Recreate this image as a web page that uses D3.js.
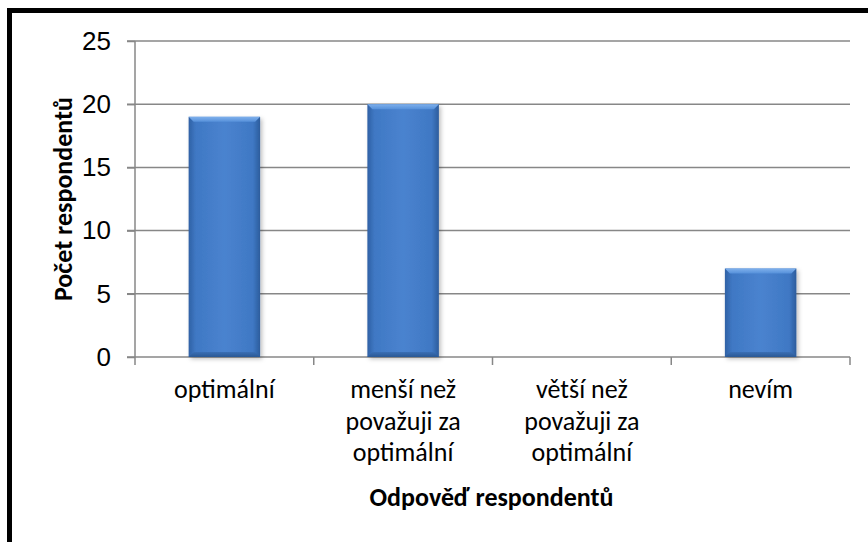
<!DOCTYPE html>
<html>
<head>
<meta charset="utf-8">
<script src="https://cdn.jsdelivr.net/npm/d3@7"></script>
<style>
  body { margin: 0; background: #fff; }
  svg { display: block; font-family: Carlito, "Open Sans", "Noto Sans", sans-serif; }
</style>
</head>
<body>
<div id="chart"></div>
<script>
// categories, each split into its printed lines
var categories = ["optimální", "menší než považuji za optimální", "větší než považuji za optimální", "nevím"],
    categoryLines = [["optimální"], ["menší než", "považuji za", "optimální"], ["větší než", "považuji za", "optimální"], ["nevím"]],
    counts = [19, 20, 0, 7],
    yTicks = [0, 5, 10, 15, 20, 25];

var xTitle = "Odpověď respondentů",
    yTitle = "Počet respondentů";

var width = 868, height = 542,
    margin = { top: 41, right: 18, bottom: 185, left: 135 },
    innerW = width - margin.left - margin.right,
    innerH = height - margin.top - margin.bottom;

var svg = d3.select("#chart").append("svg")
    .attr("width", width).attr("height", height);

// gradients for the bevelled bars
var defs = svg.append("defs");
var grad = defs.append("linearGradient").attr("id", "barGrad")
    .attr("x1", 0).attr("x2", 1).attr("y1", 0).attr("y2", 0);
grad.append("stop").attr("offset", "0%").attr("stop-color", "#2f61a5");
grad.append("stop").attr("offset", "10%").attr("stop-color", "#3f78c4");
grad.append("stop").attr("offset", "50%").attr("stop-color", "#4a83cf");
grad.append("stop").attr("offset", "90%").attr("stop-color", "#3f78c4");
grad.append("stop").attr("offset", "100%").attr("stop-color", "#2c5c9c");
var topGrad = defs.append("linearGradient").attr("id", "topGrad")
    .attr("x1", 0).attr("x2", 0).attr("y1", 0).attr("y2", 1);
topGrad.append("stop").attr("offset", "0%").attr("stop-color", "#7fb0ec");
topGrad.append("stop").attr("offset", "100%").attr("stop-color", "#5590da");
var botGrad = defs.append("linearGradient").attr("id", "botGrad")
    .attr("x1", 0).attr("x2", 0).attr("y1", 0).attr("y2", 1);
botGrad.append("stop").attr("offset", "0%").attr("stop-color", "#3a6fb5");
botGrad.append("stop").attr("offset", "100%").attr("stop-color", "#2a5894");
defs.append("filter").attr("id", "shadow")
    .attr("x", "-20%").attr("y", "-20%").attr("width", "140%").attr("height", "140%")
  .append("feDropShadow").attr("dx", 2).attr("dy", 2).attr("stdDeviation", 2)
    .attr("flood-color", "#000").attr("flood-opacity", 0.25);

// outer frame (cut off at the right and bottom in the picture)
svg.append("rect")
    .attr("x", 9.5).attr("y", 10.5).attr("width", 950).attr("height", 650)
    .attr("fill", "none").attr("stroke", "#000").attr("stroke-width", 5);

var g = svg.append("g").attr("transform", "translate(" + margin.left + "," + margin.top + ")");

var x = d3.scaleBand().domain(categories).range([0, innerW]).paddingInner(0.6).paddingOuter(0.3);
var xOuter = d3.scaleBand().domain(categories).range([0, innerW]);
var y = d3.scaleLinear().domain([0, 25]).range([innerH, 0]);

// gridlines
g.append("g").selectAll("line").data(yTicks.slice(1)).enter().append("line")
    .attr("x1", -8).attr("x2", innerW)
    .attr("y1", function (d) { return y(d); }).attr("y2", function (d) { return y(d); })
    .attr("stroke", "#878787").attr("stroke-width", 1.5);

// y axis
var yAxis = g.append("g").call(d3.axisLeft(y).tickValues(yTicks).tickSize(8).tickPadding(16));
yAxis.select(".domain").attr("stroke", "#878787").attr("stroke-width", 1.5).attr("d", "M0," + innerH + "V0");
yAxis.selectAll(".tick line").attr("stroke", "#878787").attr("stroke-width", 1.5);
yAxis.selectAll(".tick text").attr("fill", "#000").style("font-size", "26px");

// x axis baseline and category dividers
g.append("line").attr("x1", -8).attr("x2", innerW).attr("y1", innerH).attr("y2", innerH)
    .attr("stroke", "#878787").attr("stroke-width", 1.5);
g.append("g").selectAll("line").data(categories).enter().append("line")
    .attr("x1", function (d) { return xOuter(d) + xOuter.bandwidth(); })
    .attr("x2", function (d) { return xOuter(d) + xOuter.bandwidth(); })
    .attr("y1", innerH).attr("y2", innerH + 8)
    .attr("stroke", "#878787").attr("stroke-width", 1.5);
g.append("line").attr("x1", 0).attr("x2", 0).attr("y1", innerH).attr("y2", innerH + 8)
    .attr("stroke", "#878787").attr("stroke-width", 1.5);

// bars
var bars = g.append("g").selectAll("g").data(categories.map(function (c, i) { return { c: c, v: counts[i] }; })
    .filter(function (d) { return d.v > 0; }))
  .enter().append("g");
var bev = 5;
bars.append("rect")
    .attr("x", function (d) { return x(d.c); }).attr("y", function (d) { return y(d.v); })
    .attr("width", x.bandwidth()).attr("height", function (d) { return innerH - y(d.v); })
    .attr("fill", "url(#barGrad)").attr("filter", "url(#shadow)");
bars.append("path")
    .attr("d", function (d) {
        var x0 = x(d.c), x1 = x0 + x.bandwidth(), y0 = y(d.v);
        return "M" + x0 + "," + y0 + "H" + x1 + "L" + (x1 - bev) + "," + (y0 + bev) + "H" + (x0 + bev) + "Z";
    })
    .attr("fill", "url(#topGrad)");
bars.append("path")
    .attr("d", function (d) {
        var x0 = x(d.c), x1 = x0 + x.bandwidth(), y0 = innerH;
        return "M" + x0 + "," + y0 + "H" + x1 + "L" + (x1 - bev) + "," + (y0 - bev) + "H" + (x0 + bev) + "Z";
    })
    .attr("fill", "url(#botGrad)");

// category labels
var labels = g.append("g").selectAll("text").data(categories).enter().append("text")
    .attr("x", function (d) { return xOuter(d) + xOuter.bandwidth() / 2; })
    .attr("y", innerH + 41)
    .attr("text-anchor", "middle").style("font-size", "26px").attr("fill", "#000");
labels.selectAll("tspan").data(function (d, i) { return categoryLines[i]; }).enter().append("tspan")
    .attr("x", function () { return d3.select(this.parentNode).attr("x"); })
    .attr("dy", function (d, i) { return i === 0 ? 0 : 31.5; })
    .text(function (d) { return d; });

// axis titles
svg.append("text")
    .attr("x", margin.left + innerW / 2 - 1).attr("y", 506)
    .attr("text-anchor", "middle").style("font-size", "26px").style("font-weight", "bold")
    .text(xTitle);
svg.append("text")
    .attr("transform", "translate(72," + (margin.top + innerH / 2) + ") rotate(-90)")
    .attr("text-anchor", "middle").style("font-size", "26px").style("font-weight", "bold")
    .text(yTitle);
</script>
</body>
</html>
